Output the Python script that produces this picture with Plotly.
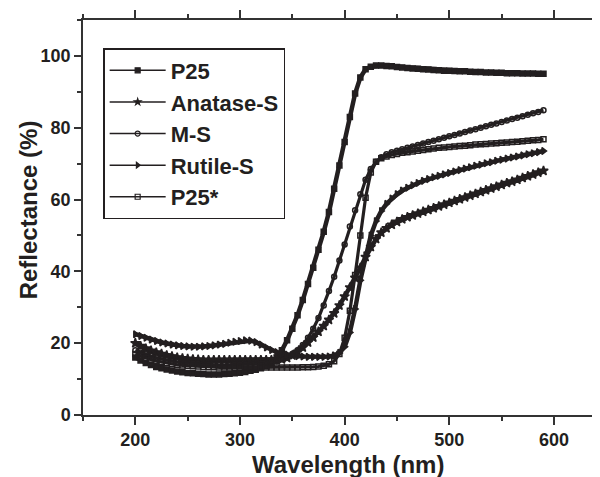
import plotly.graph_objects as go

wavelength = list(range(200, 595, 5))

p25 = [16.0, 15.2, 14.5, 13.9, 13.4, 13.0, 12.7, 12.4, 12.1, 11.9,
       11.7, 11.6, 11.5, 11.4, 11.3, 11.3, 11.3, 11.4, 11.5, 11.6,
       11.8, 12.0, 12.3, 12.6, 13.0, 13.6, 14.5, 16.0, 18.0, 20.8,
       24.0, 27.8, 32.0, 36.5, 41.0, 46.0, 51.0, 56.5, 63.0, 69.5,
       76.0, 83.0, 89.5, 94.0, 96.3, 97.0, 97.3, 97.3, 97.2, 97.1,
       96.9, 96.8, 96.6, 96.5, 96.4, 96.3, 96.2, 96.1, 96.0, 95.9,
       95.9, 95.8, 95.7, 95.7, 95.6, 95.5, 95.5, 95.4, 95.4, 95.3,
       95.3, 95.2, 95.2, 95.2, 95.1, 95.1, 95.1, 95.0, 95.0]

anatase_s = [20.0, 19.2, 18.5, 17.9, 17.4, 17.0, 16.6, 16.3, 16.0, 15.8,
             15.6, 15.5, 15.4, 15.3, 15.3, 15.3, 15.3, 15.3, 15.3, 15.3,
             15.3, 15.3, 15.3, 15.3, 15.3, 15.3, 15.3, 15.4, 15.5, 15.9,
             16.6, 17.6, 18.8, 20.2, 21.6, 23.2, 24.8, 26.5, 28.3, 30.5,
             33.0, 35.5, 38.2, 41.0, 44.0, 46.8, 49.0, 50.8, 52.0, 53.0,
             53.8, 54.5, 55.1, 55.6, 56.1, 56.6, 57.1, 57.6, 58.1, 58.6,
             59.1, 59.6, 60.1, 60.6, 61.1, 61.6, 62.1, 62.6, 63.1, 63.6,
             64.1, 64.6, 65.0, 65.5, 66.0, 66.5, 67.0, 67.5, 68.0]

m_s = [18.0, 17.4, 16.9, 16.4, 16.0, 15.6, 15.3, 15.0, 14.8, 14.6,
       14.4, 14.3, 14.2, 14.1, 14.0, 14.0, 14.0, 14.0, 14.0, 14.0,
       14.0, 14.0, 14.1, 14.1, 14.2, 14.4, 14.6, 15.0, 15.5, 16.2,
       17.0, 18.0, 19.5, 21.5, 24.0, 27.0, 30.5, 34.5, 38.5, 43.0,
       47.5, 52.5, 57.0, 61.5, 65.5, 68.5, 70.5, 71.8, 72.6, 73.2,
       73.6, 74.0, 74.4, 74.8, 75.2, 75.6, 76.0, 76.4, 76.8, 77.2,
       77.6, 78.0, 78.4, 78.8, 79.2, 79.6, 80.0, 80.4, 80.8, 81.2,
       81.6, 82.0, 82.4, 82.8, 83.2, 83.6, 84.0, 84.4, 84.9]

rutile_s = [22.5, 22.0, 21.5, 21.0, 20.6, 20.2, 19.9, 19.6, 19.4, 19.2,
            19.1, 19.0, 19.0, 19.1, 19.2, 19.4, 19.6, 19.8, 20.1, 20.4,
            20.6, 20.8, 20.7, 20.3, 19.6, 18.8, 18.1, 17.5, 17.1, 16.8,
            16.6, 16.4, 16.3, 16.2, 16.2, 16.2, 16.2, 16.3, 16.6, 17.3,
            19.0, 23.0, 29.5, 37.5, 44.5, 50.0, 54.0, 56.8, 58.8, 60.3,
            61.5, 62.5, 63.3, 64.0, 64.6, 65.2, 65.7, 66.2, 66.6, 67.0,
            67.4, 67.8, 68.2, 68.6, 69.0, 69.4, 69.7, 70.1, 70.4, 70.8,
            71.1, 71.4, 71.7, 72.0, 72.3, 72.6, 72.9, 73.2, 73.5]

p25_star = [17.0, 16.4, 15.9, 15.4, 15.0, 14.7, 14.4, 14.2, 14.0, 13.8,
            13.7, 13.6, 13.5, 13.4, 13.3, 13.3, 13.2, 13.2, 13.2, 13.2,
            13.2, 13.2, 13.2, 13.2, 13.2, 13.2, 13.2, 13.2, 13.2, 13.2,
            13.2, 13.2, 13.3, 13.3, 13.4, 13.5, 13.7, 14.1, 15.0, 17.0,
            21.5, 29.0, 39.0, 50.0, 60.5, 67.5, 70.5, 71.5, 72.0, 72.4,
            72.7, 73.0, 73.2, 73.4, 73.6, 73.8, 74.0, 74.2, 74.4, 74.5,
            74.6, 74.8, 74.9, 75.0, 75.1, 75.3, 75.4, 75.5, 75.6, 75.7,
            75.8, 75.9, 76.0, 76.1, 76.2, 76.4, 76.5, 76.6, 76.8]

series_names = ["P25", "Anatase-S", "M-S", "Rutile-S", "P25*"]
series_values = [p25, anatase_s, m_s, rutile_s, p25_star]
symbols = ["square", "star", "circle-open", "triangle-right", "square-open"]
sizes = [5, 7, 5, 6, 5]
line_widths = [4.5, 4.5, 3.2, 4.5, 3.2]

x_ticks = [200, 300, 400, 500, 600]
y_ticks = [0, 20, 40, 60, 80, 100]

INK = "#231f20"
AX = "#333333"
FONT = "Liberation Sans, Arial, sans-serif"

fig = go.Figure()
# data traces
for name, vals, sym, sz, lw in zip(series_names, series_values, symbols, sizes, line_widths):
    fig.add_trace(go.Scatter(
        x=wavelength, y=vals, name=name, mode="lines+markers",
        showlegend=False,
        line=dict(color=INK, width=lw),
        marker=dict(symbol=sym, size=sz, color=INK,
                    line=dict(color=INK, width=1.5)),
    ))
# legend-only entries (thin line with small marker, as in the reference key)
for name, sym in zip(series_names, symbols):
    fig.add_trace(go.Scatter(
        x=[None], y=[None], name=name, mode="lines+markers",
        line=dict(color=INK, width=1.5),
        marker=dict(symbol=sym, size=5, color=INK,
                    line=dict(color=INK, width=1.2)),
    ))

# the page body adds an 8 px margin, so the figure is 8 px smaller and shifted
fig.update_layout(
    width=592, height=469,
    margin=dict(l=75, r=0, t=12, b=62),
    paper_bgcolor="white", plot_bgcolor="white",
    font=dict(family=FONT, color=INK, size=18, weight="bold"),
    showlegend=True,
    legend=dict(
        x=0.039, y=0.929, xanchor="left", yanchor="top",
        bgcolor="white", bordercolor=INK, borderwidth=1.5,
        font=dict(family=FONT, size=22, color=INK, weight="bold"),
        itemwidth=56,
    ),
    xaxis=dict(
        range=[150, 644], tickvals=x_ticks, ticktext=[str(v) for v in x_ticks],
        showgrid=False, zeroline=False, automargin=False,
        showline=True, linecolor=AX, linewidth=1.5, mirror="ticks",
        ticks="outside", ticklen=8, tickwidth=1.5, tickcolor=AX,
        minor=dict(dtick=50, tick0=150, ticks="outside", ticklen=4, tickwidth=1.5, tickcolor=AX),
        tickfont=dict(size=18, weight="bold"),
    ),
    yaxis=dict(
        range=[0, 110], tickvals=y_ticks, ticktext=[str(v) for v in y_ticks],
        showgrid=False, zeroline=False, automargin=False,
        showline=True, linecolor=AX, linewidth=1.5, mirror=False,
        ticks="outside", ticklen=7, tickwidth=1.5, tickcolor=AX,
        minor=dict(dtick=10, ticks="outside", ticklen=4, tickwidth=1.5, tickcolor=AX),
        tickfont=dict(size=18, weight="bold"),
    ),
    annotations=[
        dict(text="Wavelength (nm)", xref="paper", yref="paper",
             x=0.513, y=-0.125, xanchor="center", yanchor="middle",
             showarrow=False, font=dict(size=24, weight="bold", color=INK)),
        dict(text="Reflectance (%)", xref="paper", yref="paper",
             x=-0.105, y=0.52, xanchor="center", yanchor="middle", textangle=-90,
             showarrow=False, font=dict(size=24, weight="bold", color=INK)),
    ],
)

fig.write_html("out.html")
